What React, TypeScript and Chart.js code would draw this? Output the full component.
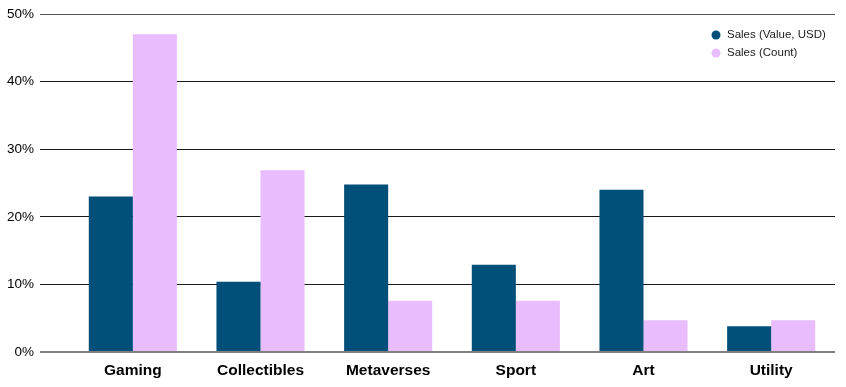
import React, { useEffect, useRef } from "react";
import { Chart, registerables } from "chart.js";

Chart.register(...registerables);

const categories = ["Gaming", "Collectibles", "Metaverses", "Sport", "Art", "Utility"];
const salesValue = [23, 10.4, 24.8, 12.9, 24, 3.8];
const salesCount = [47, 26.9, 7.6, 7.6, 4.7, 4.7];
const seriesLabels = ["Sales (Value, USD)", "Sales (Count)"];
const seriesColors = ["#024F7A", "#E8BCFD"];

const legendPlugin = {
  id: "insideLegend",
  afterDraw(chart: any) {
    const ctx = chart.ctx;
    ctx.save();
    ctx.font = "11.5px 'Liberation Sans', Arial, sans-serif";
    ctx.textBaseline = "middle";
    ctx.textAlign = "left";
    chart.data.datasets.forEach((ds: any, i: number) => {
      const y = 35 + i * 18;
      ctx.fillStyle = ds.backgroundColor;
      ctx.beginPath();
      ctx.arc(716, y, 4.5, 0, Math.PI * 2);
      ctx.fill();
      ctx.fillStyle = "#1a1a1a";
      ctx.fillText(ds.label, 727, y);
    });
    ctx.restore();
  },
};

export default function App() {
  const ref = useRef<HTMLCanvasElement>(null);
  useEffect(() => {
    document.body.style.margin = "0";
    const chart = new Chart(ref.current as HTMLCanvasElement, {
      type: "bar",
      data: {
        labels: categories,
        datasets: [
          { label: seriesLabels[0], data: salesValue, backgroundColor: seriesColors[0] },
          { label: seriesLabels[1], data: salesCount, backgroundColor: seriesColors[1] },
        ],
      },
      plugins: [legendPlugin],
      options: {
        animation: false,
        responsive: false,
        maintainAspectRatio: false,
        layout: { padding: { top: 12, right: 11, bottom: 0, left: 0 } },
        datasets: { bar: { barPercentage: 1, categoryPercentage: 0.69 } },
        plugins: { legend: { display: false }, tooltip: { enabled: false } },
        scales: {
          x: {
            grid: { display: false, drawTicks: false },
            border: { display: false },
            ticks: {
              padding: 9,
              color: "#000",
              font: { family: "'Liberation Sans', Arial, sans-serif", size: 15.5, weight: "bold" },
            },
            afterFit(scale: any) {
              scale.height = 35;
            },
          },
          y: {
            min: 0,
            max: 50,
            border: { display: false },
            grid: {
              drawTicks: true,
              tickLength: 29,
              color: (c: any) => (c.tick && c.tick.value === 0 ? "#808080" : c.tick && c.tick.value === 50 ? "#555" : "#1a1a1a"),
              lineWidth: (c: any) => (c.tick && c.tick.value === 0 ? 2 : 1),
            },
            ticks: {
              stepSize: 10,
              padding: 6,
              color: "#000",
              font: { family: "'Liberation Sans', Arial, sans-serif", size: 13.5 },
              callback: (v: any) => v + "%",
            },
            afterFit(scale: any) {
              scale.width = 69;
            },
          },
        },
      },
    });
    return () => chart.destroy();
  }, []);
  return (
    <div style={{ width: 846, height: 387 }}>
      <canvas ref={ref} width={846} height={387} style={{ width: 846, height: 387 }} />
    </div>
  );
}
